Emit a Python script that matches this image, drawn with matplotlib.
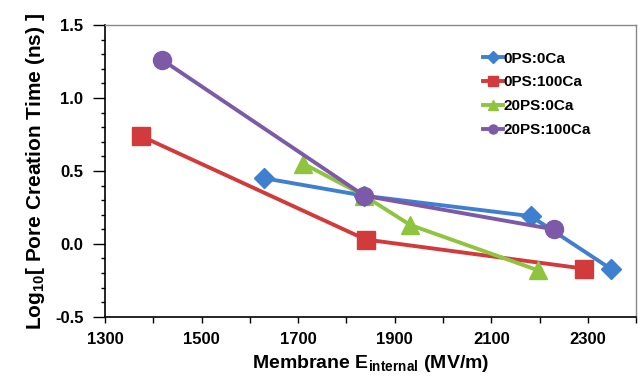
import numpy as np
import matplotlib
matplotlib.use('Agg')
import matplotlib.pyplot as plt
from matplotlib.lines import Line2D
from matplotlib.ticker import MultipleLocator

plt.rcParams['font.family'] = ['Liberation Sans', 'DejaVu Sans']
plt.rcParams['font.weight'] = 'bold'
plt.rcParams['mathtext.fontset'] = 'custom'
plt.rcParams['mathtext.rm'] = 'Liberation Sans:bold'
plt.rcParams['mathtext.it'] = 'Liberation Sans:bold'
plt.rcParams['mathtext.default'] = 'rm'

# data
labels = ['0PS:0Ca', '0PS:100Ca', '20PS:0Ca', '20PS:100Ca']
x_0ps_0ca = [1630, 1837, 2182, 2347]
y_0ps_0ca = [0.45, 0.33, 0.19, -0.17]
x_0ps_100ca = [1374, 1840, 2293]
y_0ps_100ca = [0.74, 0.03, -0.17]
x_20ps_0ca = [1711, 1837, 1932, 2196]
y_20ps_0ca = [0.55, 0.33, 0.13, -0.18]
x_20ps_100ca = [1419, 1837, 2229]
y_20ps_100ca = [1.26, 0.33, 0.10]

colors = ['#3f7fcf', '#d23b3b', '#8fc43f', '#7d5aa8']
markers = ['D', 's', '^', 'o']
sizes = [10, 12.5, 13, 13]
series = [(x_0ps_0ca, y_0ps_0ca), (x_0ps_100ca, y_0ps_100ca),
          (x_20ps_0ca, y_20ps_0ca), (x_20ps_100ca, y_20ps_100ca)]

fig = plt.figure(figsize=(6.4, 3.85), dpi=100)
ax = fig.add_axes([0.164, 0.177, 0.830, 0.758])

handles = []
for i, (xs, ys) in enumerate(series):
    ax.plot(xs, ys, color=colors[i], marker=markers[i], markersize=sizes[i],
            linewidth=2.8, zorder=2 + i)
    handles.append(Line2D([], [], color=colors[i], marker=markers[i],
                          markersize=6.5, linewidth=2.8))

ax.set_xlim(1300, 2400)
ax.set_ylim(-0.5, 1.5)
ax.set_xticks([1300, 1500, 1700, 1900, 2100, 2300])
ax.xaxis.set_minor_locator(MultipleLocator(100))
ax.set_yticks([-0.5, 0.0, 0.5, 1.0, 1.5])
ax.set_yticklabels(['-0.5', '0.0', '0.5', '1.0', '1.5'])
ax.yaxis.set_minor_locator(MultipleLocator(0.1))
ax.tick_params(axis='x', which='both', direction='out', length=4, width=1,
               labelsize=12, pad=7)
ax.tick_params(axis='y', which='major', direction='out', length=8.5, width=1,
               labelsize=12, pad=7)
ax.tick_params(axis='y', which='minor', direction='out', length=3, width=1)
for lab in ax.get_xticklabels() + ax.get_yticklabels():
    lab.set_fontweight('bold')

for s in ['left', 'bottom']:
    ax.spines[s].set_linewidth(1.2)
for s in ['top', 'right']:
    ax.spines[s].set_color('#888888')
    ax.spines[s].set_linewidth(1.0)

ax.set_xlabel('Membrane $E_{internal}$ (MV/m)', fontsize=14, fontweight='bold',
              labelpad=4)
ax.set_ylabel('Log$_{10}$[ Pore Creation Time (ns) ]', fontsize=15,
              fontweight='bold', labelpad=6)

leg = ax.legend(handles, labels, loc='upper left', bbox_to_anchor=(0.70, 0.93),
                frameon=False, fontsize=11, handlelength=1.3, handletextpad=0.05,
                labelspacing=0.65, borderaxespad=0)
for t in leg.get_texts():
    t.set_fontweight('bold')

fig.savefig('out.png', dpi=100)
